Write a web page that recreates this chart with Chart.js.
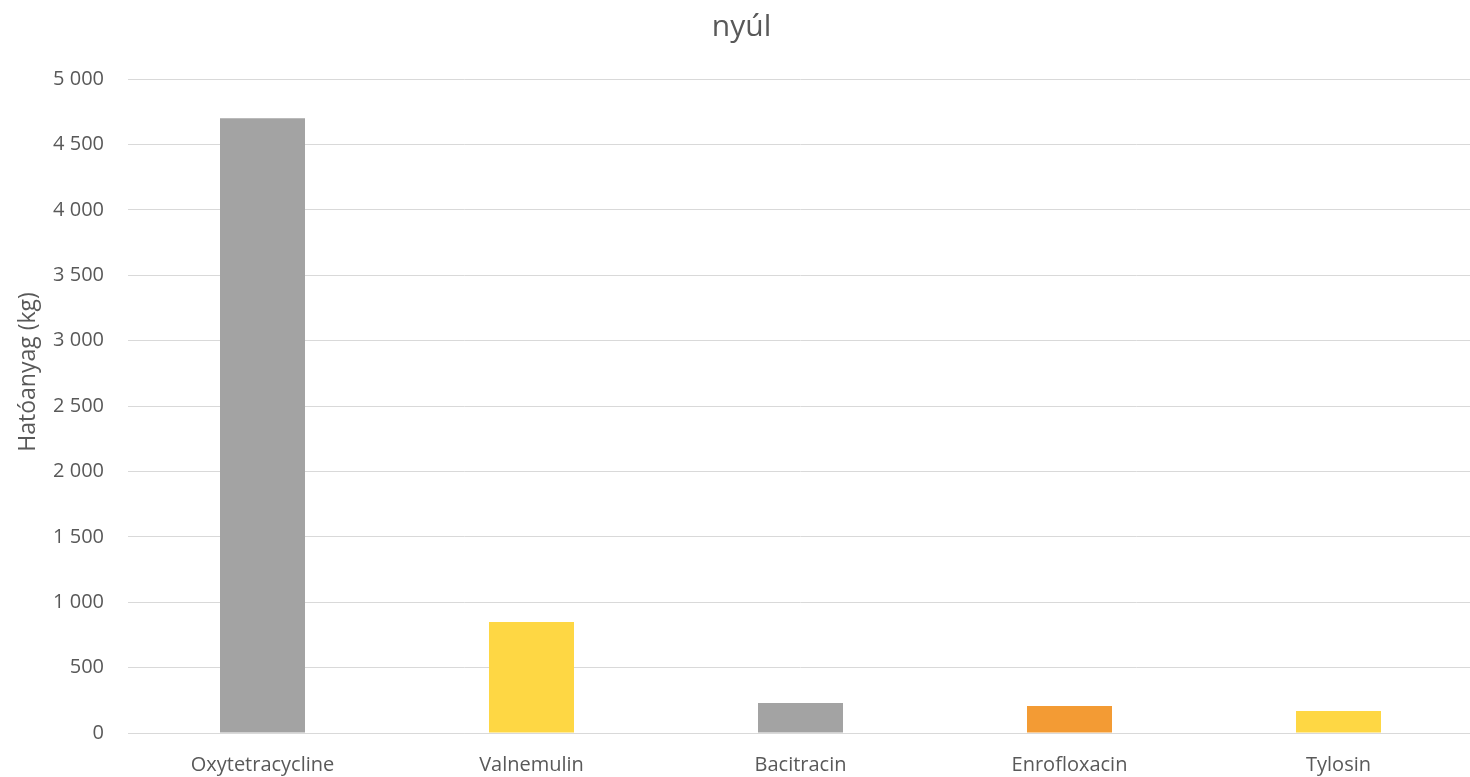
<!DOCTYPE html>
<html>
<head>
<meta charset="utf-8">
<script src="https://cdn.jsdelivr.net/npm/chart.js@4"></script>
<style>
html,body{margin:0;padding:0;background:#fff;overflow:hidden;}
#wrap{width:1470px;height:777px;position:relative;overflow:hidden;}
</style>
</head>
<body>
<div id="wrap"><canvas id="c" width="1473" height="777"></canvas></div>
<script>
const chartTitle = "nyúl";
const yAxisTitle = "Hatóanyag (kg)";
const categories = ["Oxytetracycline", "Valnemulin", "Bacitracin", "Enrofloxacin", "Tylosin"];
const values = [4700, 848, 229, 206, 168];
const barColors = ["#A3A3A3", "#FED744", "#A3A3A3", "#F39B34", "#FED744"];
const yMin = 0, yMax = 5000, yStep = 500;

const textColor = "#595959";
const fontFamily = "'Open Sans', sans-serif";

function fmt(v){ return String(v).replace(/\B(?=(\d{3})+(?!\d))/g, " "); }

const yTitlePlugin = {
  id: "yTitle",
  afterDraw(chart){
    const ctx = chart.ctx, a = chart.chartArea;
    const cx = 28;
    const cy = a.top + (a.bottom - a.top) * 0.448;
    ctx.save();
    ctx.translate(cx, cy);
    ctx.rotate(-Math.PI / 2);
    ctx.fillStyle = textColor;
    ctx.font = "23px " + fontFamily;
    ctx.textAlign = "center";
    ctx.textBaseline = "middle";
    ctx.fillText(yAxisTitle, 0, 0);
    ctx.restore();
  }
};

new Chart(document.getElementById("c"), {
  type: "bar",
  data: {
    labels: categories,
    datasets: [{
      data: values,
      backgroundColor: barColors,
      borderWidth: 0,
      barPercentage: 0.316,
      categoryPercentage: 1.0
    }]
  },
  plugins: [yTitlePlugin],
  options: {
    responsive: false,
    animation: false,
    devicePixelRatio: 1,
    layout: { padding: { left: 10, right: 0, top: 0, bottom: 0 } },
    plugins: {
      legend: { display: false },
      tooltip: { enabled: false },
      title: {
        display: true,
        text: chartTitle,
        color: textColor,
        font: { family: fontFamily, size: 30, weight: "normal", lineHeight: 1.2 },
        padding: { top: 9, bottom: 34 }
      }
    },
    scales: {
      x: {
        grid: { display: false, drawTicks: false },
        border: { display: true, color: "#D9D9D9", width: 1 },
        ticks: {
          color: textColor,
          font: { family: fontFamily, size: 20 },
          padding: 20,
          maxRotation: 0
        },
        afterFit: function(s){ s.height = 44; }
      },
      y: {
        min: yMin, max: yMax,
        grid: { color: "#D9D9D9", lineWidth: 1, drawTicks: false },
        border: { display: false },
        ticks: {
          stepSize: yStep,
          color: textColor,
          font: { family: fontFamily, size: 20 },
          padding: 24,
          callback: function(v){ return fmt(v); }
        },
        title: { display: false },
        afterFit: function(s){ s.width = 118; }
      }
    }
  }
});
</script>
</body>
</html>
